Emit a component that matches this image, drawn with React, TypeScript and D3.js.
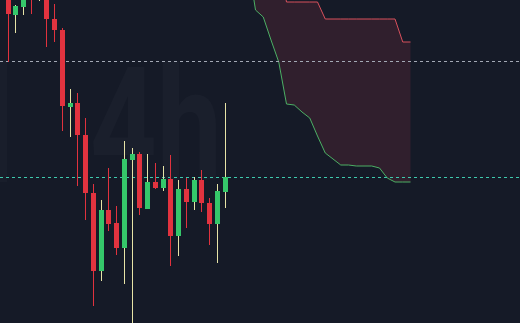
import React from "react";
import * as d3 from "d3";

const W = 520;
const H = 323;

// candles (index, open, high, low, close)
const opens = [30100, 29850, 29930, 30300, 30100, 30050, 29810, 29700, 28930, 28970, 28650, 28070, 27290, 27900, 27770, 27520, 28400, 28460, 27910, 28180, 28120, 28210, 27640, 28110, 27980, 28200, 27970, 27760, 28080];
const highs = [30200, 29950, 30100, 30400, 30300, 30100, 29960, 29720, 29110, 29070, 28820, 28160, 28000, 28320, 27940, 28590, 28520, 28480, 28460, 28370, 28340, 28450, 28200, 28220, 28230, 28300, 28020, 28160, 28970];
const lows = [29380, 29670, 29850, 29860, 29990, 29530, 29580, 28690, 28630, 28140, 27800, 26940, 27190, 27690, 27450, 27160, 26700, 27850, 27910, 28110, 28090, 27340, 27440, 27720, 27900, 27880, 27550, 27370, 27920];
const closes = [29860, 29940, 30050, 30080, 30250, 29810, 29700, 28940, 28970, 28650, 28070, 27290, 27900, 27760, 27520, 28410, 28460, 27920, 28180, 28120, 28210, 27640, 28110, 27980, 28200, 27970, 27760, 28090, 28230];

// cloud (projected forward), starting at index 30
const cloudStart = 30;
const spanLower = [30400, 30400, 29900, 29830, 29600, 29380, 28960, 28950, 28880, 28820, 28640, 28470, 28410, 28350, 28350, 28340, 28340, 28340, 28320, 28220, 28180, 28180, 28180];
const spanUpper = [30500, 30500, 30500, 30500, 30450, 30400, 29980, 29980, 29980, 29980, 29980, 29810, 29810, 29810, 29810, 29810, 29810, 29810, 29810, 29810, 29810, 29580, 29580];

// horizontal levels
const levels = [29385, 28230];
const levelColors = ["#a3a9b5", "#3ec9ad"];

const watermark = "4h";

export default function App() {
  const x = d3.scaleLinear().domain([0, 66]).range([7.5, 7.5 + 7.75 * 66]);
  const y = d3.scaleLinear().domain([26770, 30000]).range([H, 0]);
  const bw = 5;

  const cloud = spanLower.map((v, i) => ({ i: cloudStart + i, lo: v, hi: spanUpper[i] }));
  const area = d3
    .area<{ i: number; lo: number; hi: number }>()
    .x((d) => x(d.i))
    .y0((d) => y(d.lo))
    .y1((d) => y(d.hi));
  const lineLo = d3
    .line<{ i: number; lo: number; hi: number }>()
    .x((d) => x(d.i))
    .y((d) => y(d.lo));
  const lineHi = d3
    .line<{ i: number; lo: number; hi: number }>()
    .x((d) => x(d.i))
    .y((d) => y(d.hi));

  return (
    <div style={{ position: "fixed", left: 0, top: 0, width: W, height: H }}>
      <svg width={W} height={H} style={{ display: "block" }}>
        <rect x={0} y={0} width={W} height={H} fill="#151a27" />
        <rect x={0} y={60} width={7} height={122} fill="#ffffff" fillOpacity={0.02} />
        <text
          x={90}
          y={180}
          fontFamily="Roboto, 'Open Sans', sans-serif"
          fontWeight={700}
          fontSize={158}
          textLength={132}
          lengthAdjust="spacingAndGlyphs"
          fill="#ffffff"
          fillOpacity={0.022}
        >
          {watermark}
        </text>
        <path d={area(cloud) || ""} fill="#3a2230" fillOpacity={0.75} />
        <path d={lineHi(cloud) || ""} fill="none" stroke="#d8505c" strokeWidth={1} />
        <path d={lineLo(cloud) || ""} fill="none" stroke="#4caf64" strokeWidth={1} />
        {levels.map((lv, k) => (
          <line
            key={k}
            x1={0}
            x2={W}
            y1={Math.round(y(lv)) + 0.5}
            y2={Math.round(y(lv)) + 0.5}
            stroke={levelColors[k]}
            strokeDasharray="3,3"
            strokeWidth={1}
          />
        ))}
        {opens.map((o, i) => {
          const c = closes[i];
          const up = c >= o;
          const cx = Math.round(x(i)) + 0.5;
          const top = y(Math.max(o, c));
          const bot = y(Math.min(o, c));
          return (
            <g key={i}>
              <line
                x1={cx}
                x2={cx}
                y1={y(highs[i])}
                y2={y(lows[i])}
                stroke={up ? "#e6e3a6" : "#e0323e"}
                strokeWidth={1}
              />
              <rect
                x={cx - bw / 2}
                y={top}
                width={bw}
                height={Math.max(1, bot - top)}
                fill={up ? "#35c76a" : "#e2333f"}
              />
            </g>
          );
        })}
      </svg>
    </div>
  );
}
